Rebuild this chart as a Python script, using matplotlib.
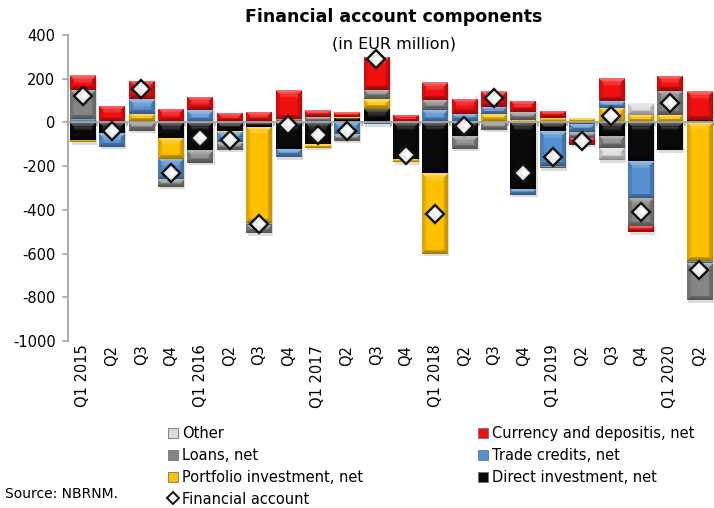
import numpy as np
import matplotlib
matplotlib.use("Agg")
import matplotlib.pyplot as plt
import matplotlib.patheffects as pe
from matplotlib.patches import Patch
from matplotlib.lines import Line2D
from matplotlib.transforms import blended_transform_factory

plt.rcParams["font.family"] = ["DejaVu Sans"]
plt.rcParams["axes.unicode_minus"] = False

quarters = ["Q1 2015", "Q2", "Q3", "Q4", "Q1 2016", "Q2", "Q3", "Q4",
            "Q1 2017", "Q2", "Q3", "Q4", "Q1 2018", "Q2", "Q3", "Q4",
            "Q1 2019", "Q2", "Q3", "Q4", "Q1 2020", "Q2"]

# EUR million, stacked in this order away from zero
direct_investment = [-80, -50, 5, -69, -128, -38, -20, -120, -97, 22, 60, -168,
                     -233, -62, 0, -304, -38, -5, -61, -176, -127, 12]
portfolio_investment = [-10, 0, 35, -97, 4, -5, -440, 0, -18, 4, 45, -15,
                        -368, 5, 37, 12, 20, 18, 68, 35, 35, -635]
trade_credits = [15, -62, 66, -95, 52, -48, -7, -40, 0, -55, -8, 0,
                 57, 34, 35, -28, -160, -40, 31, -169, 0, -10]
loans = [135, 0, -38, -34, -56, -34, -40, 15, 27, -28, 42, 0,
         46, -58, -34, 34, -12, -25, -57, -130, 110, -168]
currency_deposits = [65, 75, 84, 60, 60, 45, 46, 132, 29, 22, 152, 35,
                     80, 69, 72, 54, 33, -33, 103, -28, 69, 130]
other = [0, 0, 0, 0, 0, 0, 0, 0, 0, 0, 0, 0,
         0, 0, 0, 0, 0, 0, -55, 52, 0, 0]
financial_account = [123, -40, 154, -233, -70, -80, -463, -12, -58, -38, 288, -150,
                     -418, -15, 110, -232, -158, -87, 30, -412, 87, -675]

series = [
    ("Direct investment, net", direct_investment, "#0a0a0a"),
    ("Portfolio investment, net", portfolio_investment, "#ffc000"),
    ("Trade credits, net", trade_credits, "#5590d0"),
    ("Loans, net", loans, "#858585"),
    ("Currency and depositis, net", currency_deposits, "#f01010"),
    ("Other", other, "#dcdcdc"),
]

W, H, DPI = 714, 508, 100
fig = plt.figure(figsize=(W / DPI, H / DPI), dpi=DPI)
ax = fig.add_axes([68 / W, 1 - 341 / H, 646 / W, 306 / H])
n = len(quarters)
x = np.arange(n)
ax.set_xlim(-0.5, n - 0.5)
ax.set_ylim(-1000, 400)


def bevel_image(color, w_px, h_px, b=4.0):
    """RGBA array giving a bevelled, slightly glossy face for a bar segment."""
    nx = max(int(round(w_px)), 1)
    ny = max(int(round(h_px)), 1)
    X, Y = np.meshgrid(np.arange(nx) + 0.5, np.arange(ny) + 0.5)
    d = np.stack([Y, ny - Y, X, nx - X])
    idx = np.argmin(d, axis=0)
    dmin = np.min(d, axis=0)
    bb = max(min(b, h_px / 2.2, w_px / 2.2), 0.8)
    amounts = np.array([0.42, -0.38, -0.15, -0.25])
    w = np.where(dmin < bb, 0.55 + 0.45 * (1 - dmin / bb), 0.0)
    a = amounts[idx] * w
    # soft glossy band just below the top facet
    gloss = np.exp(-((Y - bb - 1.5) / 1.6) ** 2) * (dmin >= bb) * 0.18
    a = a + gloss
    base = np.array(matplotlib.colors.to_rgb(color))
    rgb = np.empty((ny, nx, 3))
    for c in range(3):
        light = base[c] + (1 - base[c]) * np.clip(a, 0, None)
        dark = base[c] * (1 + np.clip(a, None, 0))
        rgb[..., c] = np.where(a >= 0, light, dark)
    alpha = np.ones((ny, nx, 1))
    return np.concatenate([rgb, alpha], axis=2)


pos_bottom = np.zeros(n)
neg_bottom = np.zeros(n)
bar_width = 0.865
shadow = [pe.SimplePatchShadow(offset=(1.2, -1.8), shadow_rgbFace="#777777", alpha=0.25), pe.Normal()]
px_per_unit_x = ax.transData.transform((1, 0))[0] - ax.transData.transform((0, 0))[0]
px_per_unit_y = ax.transData.transform((0, 1))[1] - ax.transData.transform((0, 0))[1]

for name, vals, color in series:
    vals = np.asarray(vals, dtype=float)
    bottoms = np.where(vals >= 0, pos_bottom, neg_bottom)
    bars = ax.bar(x, vals, bar_width, bottom=bottoms, color=color, zorder=2,
                  linewidth=0, path_effects=shadow)
    for rect, v in zip(bars, vals):
        if v == 0:
            continue
        x0 = rect.get_x()
        x1 = x0 + rect.get_width()
        y0 = min(rect.get_y(), rect.get_y() + rect.get_height())
        y1 = max(rect.get_y(), rect.get_y() + rect.get_height())
        img = bevel_image(color, rect.get_width() * px_per_unit_x, (y1 - y0) * px_per_unit_y)
        im = ax.imshow(img, extent=(x0, x1, y0, y1), origin="upper", aspect="auto",
                       interpolation="bilinear", zorder=3)
        im.set_clip_path(rect)
    pos_bottom = pos_bottom + np.clip(vals, 0, None)
    neg_bottom = neg_bottom + np.clip(vals, None, 0)

ax.set_xlim(-0.5, n - 0.5)
ax.set_ylim(-1000, 400)

ax.plot(x, financial_account, linestyle="none", marker="D", markersize=9,
        markerfacecolor="#ececec", markeredgecolor="#111111", markeredgewidth=1.7, zorder=5)
ax.plot(x + 0.04, np.asarray(financial_account) + 7, linestyle="none", marker="D", markersize=3.5,
        markerfacecolor="white", markeredgewidth=0, zorder=6)

# axes styling
axis_grey = "#a6a6a6"
for s in ["top", "right"]:
    ax.spines[s].set_visible(False)
ax.spines["left"].set_color(axis_grey)
ax.spines["left"].set_linewidth(1.3)
ax.spines["bottom"].set_position(("data", 0))
ax.spines["bottom"].set_color(axis_grey)
ax.spines["bottom"].set_linewidth(1.3)
ax.spines["bottom"].set_zorder(4)

ax.set_yticks(np.arange(-1000, 401, 200))
ax.set_yticklabels([str(v) for v in np.arange(-1000, 401, 200)])
ax.tick_params(axis="y", length=4, width=1.2, color=axis_grey, labelsize=10.5, pad=5)
ax.set_xticks(np.arange(n + 1) - 0.5)
ax.set_xticklabels([])
ax.tick_params(axis="x", length=3, width=1.2, color=axis_grey, direction="out")

label_tr = blended_transform_factory(ax.transData, ax.transAxes)
for xi, lab in zip(x, quarters):
    ax.text(xi, -0.012, lab, transform=label_tr, rotation=90, ha="center", va="top",
            fontsize=10.5)

fig.text(394 / W, 1 - 17 / H, "Financial account components", ha="center", va="center",
         fontsize=12.5, fontweight="bold")
fig.text(394 / W, 1 - 44 / H, "(in EUR million)", ha="center", va="center", fontsize=11.5)

# legend
colors = {name: color for name, _, color in series}
def sq(name):
    return Patch(facecolor=colors[name], edgecolor="#707070", linewidth=0.6)

handles = [sq("Other"), sq("Loans, net"), sq("Portfolio investment, net"),
           Line2D([], [], linestyle="none", marker="D", markersize=6.5, markerfacecolor="white",
                  markeredgecolor="#111111", markeredgewidth=1.4),
           sq("Currency and depositis, net"), sq("Trade credits, net"), sq("Direct investment, net")]
labels = ["Other", "Loans, net", "Portfolio investment, net", "Financial account",
          "Currency and depositis, net", "Trade credits, net", "Direct investment, net"]
fig.legend(handles, labels, ncol=2, loc="upper left", bbox_to_anchor=(168 / W, 1 - 426 / H),
           frameon=False, fontsize=10.5, handlelength=0.7, handleheight=0.7,
           handletextpad=0.25, columnspacing=7.9, labelspacing=0.47, borderpad=0,
           borderaxespad=0)

fig.text(5 / W, 1 - 494 / H, "Source: NBRNM.", ha="left", va="center", fontsize=10)

fig.savefig("out.png", dpi=DPI)
